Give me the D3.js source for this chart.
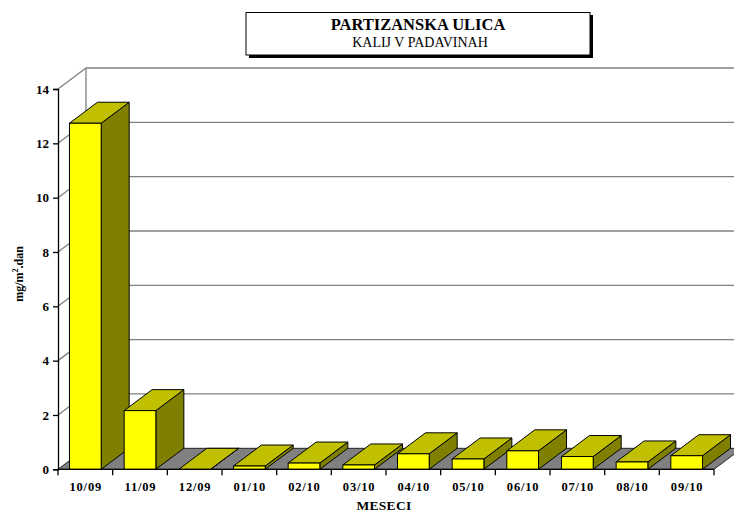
<!DOCTYPE html>
<html>
<head>
<meta charset="utf-8">
<script src="https://cdn.jsdelivr.net/npm/d3@7"></script>
<style>
body{margin:0;background:#fff;}
svg{display:block;}
</style>
</head>
<body>
<svg id="chart" width="734" height="512"></svg>
<script>
const categories = ["10/09","11/09","12/09","01/10","02/10","03/10","04/10","05/10","06/10","07/10","08/10","09/10"];
const values = [12.74, 2.16, 0, 0.12, 0.23, 0.16, 0.57, 0.38, 0.68, 0.47, 0.27, 0.5];
const yTicks = [0, 2, 4, 6, 8, 10, 12, 14];
const titleText = "PARTIZANSKA ULICA";
const subtitleText = "KALIJ V PADAVINAH";
const yLabel = "mg/m";
const xLabel = "MESECI";

(function () {
const FONT = "'Liberation Serif', 'Times New Roman', Tinos, 'DejaVu Serif', serif";
const svg = d3.select("#chart");
const pLeft = 58, pRight = 714, pBottom = 469.3, pTop = 89;
const DX = 28, DY = -21;

const x = d3.scaleBand().domain(categories).range([pLeft, pRight]).paddingInner(0.42).paddingOuter(0.21);
const y = d3.scaleLinear().domain([0, 14]).range([pBottom, pTop]);
const step = x.step();
const off = step * 0.21;

const grid = svg.append("g");
grid.selectAll("line.h").data(yTicks.filter(d => d > 0)).join("line")
  .attr("x1", pLeft + DX).attr("x2", pRight + DX + 10)
  .attr("y1", d => y(d) + DY).attr("y2", d => y(d) + DY)
  .attr("stroke", "#808080").attr("stroke-width", 1.3);
grid.selectAll("line.d").data(yTicks.filter(d => d > 0)).join("line")
  .attr("x1", pLeft).attr("x2", pLeft + DX)
  .attr("y1", d => y(d)).attr("y2", d => y(d) + DY)
  .attr("stroke", "#808080").attr("stroke-width", 1.3);
grid.append("line").attr("x1", pLeft + DX).attr("x2", pLeft + DX)
  .attr("y1", y(14) + DY).attr("y2", y(0) + DY)
  .attr("stroke", "#808080").attr("stroke-width", 1.3);
grid.append("path")
  .attr("d", `M${pLeft},${y(0)}L${pRight},${y(0)}L${pRight + DX},${y(0) + DY}L${pLeft + DX},${y(0) + DY}Z`)
  .attr("fill", "#808080").attr("stroke", "#000").attr("stroke-width", 0.8);

const bw = x.bandwidth();
const bars = svg.append("g").selectAll("g").data(categories.map((c, i) => ({c, v: values[i]}))).join("g");
bars.append("path")
  .attr("d", d => {
    const x1 = x(d.c) + bw, yt = y(d.v), yb = y(0);
    return `M${x1},${yb}L${x1},${yt}L${x1 + DX},${yt + DY}L${x1 + DX},${yb + DY}Z`;
  })
  .attr("fill", "#808000").attr("stroke", "#000").attr("stroke-width", 1).attr("stroke-linejoin", "round");
bars.append("path")
  .attr("d", d => {
    const x0 = x(d.c), yt = y(d.v);
    return `M${x0},${yt}L${x0 + bw},${yt}L${x0 + bw + DX},${yt + DY}L${x0 + DX},${yt + DY}Z`;
  })
  .attr("fill", "#C0C000").attr("stroke", "#000").attr("stroke-width", 1).attr("stroke-linejoin", "round");
bars.filter(d => d.v > 0).append("rect")
  .attr("x", d => x(d.c)).attr("y", d => y(d.v))
  .attr("width", bw).attr("height", d => y(0) - y(d.v))
  .attr("fill", "#FFFF00").attr("stroke", "#000").attr("stroke-width", 1);

const yAxis = svg.append("g").attr("transform", `translate(${pLeft},0)`)
  .call(d3.axisLeft(y).tickValues(yTicks).tickSize(5).tickPadding(4).tickFormat(d3.format("d")));
yAxis.attr("font-family", null);
yAxis.select(".domain").attr("stroke", "#000").attr("stroke-width", 1.3);
yAxis.selectAll(".tick line").attr("stroke", "#000").attr("stroke-width", 1.3);
yAxis.selectAll("text").attr("font-size", 13).attr("font-weight", "bold").attr("fill", "#000");

const xAxis = svg.append("g").attr("transform", `translate(0,${pBottom})`)
  .call(d3.axisBottom(x).tickSize(0).tickPadding(13));
xAxis.attr("font-family", null);
xAxis.select(".domain").remove();
xAxis.selectAll("text").attr("font-size", 12.5).attr("font-weight", "bold").attr("fill", "#000")
  .attr("letter-spacing", 0.8).attr("dx", 0.4);
svg.append("line").attr("x1", pLeft).attr("x2", pRight).attr("y1", pBottom).attr("y2", pBottom)
  .attr("stroke", "#000").attr("stroke-width", 1.3);
svg.append("g").selectAll("line").data(d3.range(categories.length + 1)).join("line")
  .attr("x1", i => x(categories[0]) - off + i * step).attr("x2", i => x(categories[0]) - off + i * step)
  .attr("y1", pBottom).attr("y2", pBottom + 6)
  .attr("stroke", "#000").attr("stroke-width", 1.3);

svg.append("text").attr("x", 384).attr("y", 510).attr("text-anchor", "middle")
  .attr("font-size", 13.5).attr("font-weight", "bold").attr("letter-spacing", 0.3).text(xLabel);
const yl = svg.append("text").attr("transform", "translate(23,274) rotate(-90)")
  .attr("text-anchor", "middle").attr("font-size", 12).attr("font-weight", "bold");
yl.append("tspan").text(yLabel);
yl.append("tspan").attr("font-size", 8).attr("dy", -5).text("2");
yl.append("tspan").attr("dy", 5).text(".dan");

svg.append("rect").attr("x", 249).attr("y", 15).attr("width", 344).attr("height", 43).attr("fill", "#000");
svg.append("rect").attr("x", 246).attr("y", 12.5).attr("width", 344).attr("height", 42.5)
  .attr("fill", "#fff").attr("stroke", "#000").attr("stroke-width", 1);
svg.append("text").attr("x", 418).attr("y", 30).attr("text-anchor", "middle")
  .attr("font-size", 16.5).attr("font-weight", "bold").text(titleText);
svg.append("text").attr("x", 420).attr("y", 47).attr("text-anchor", "middle")
  .attr("font-size", 14).text(subtitleText);

svg.selectAll("text").style("font-family", FONT);
})();
</script>
</body>
</html>
